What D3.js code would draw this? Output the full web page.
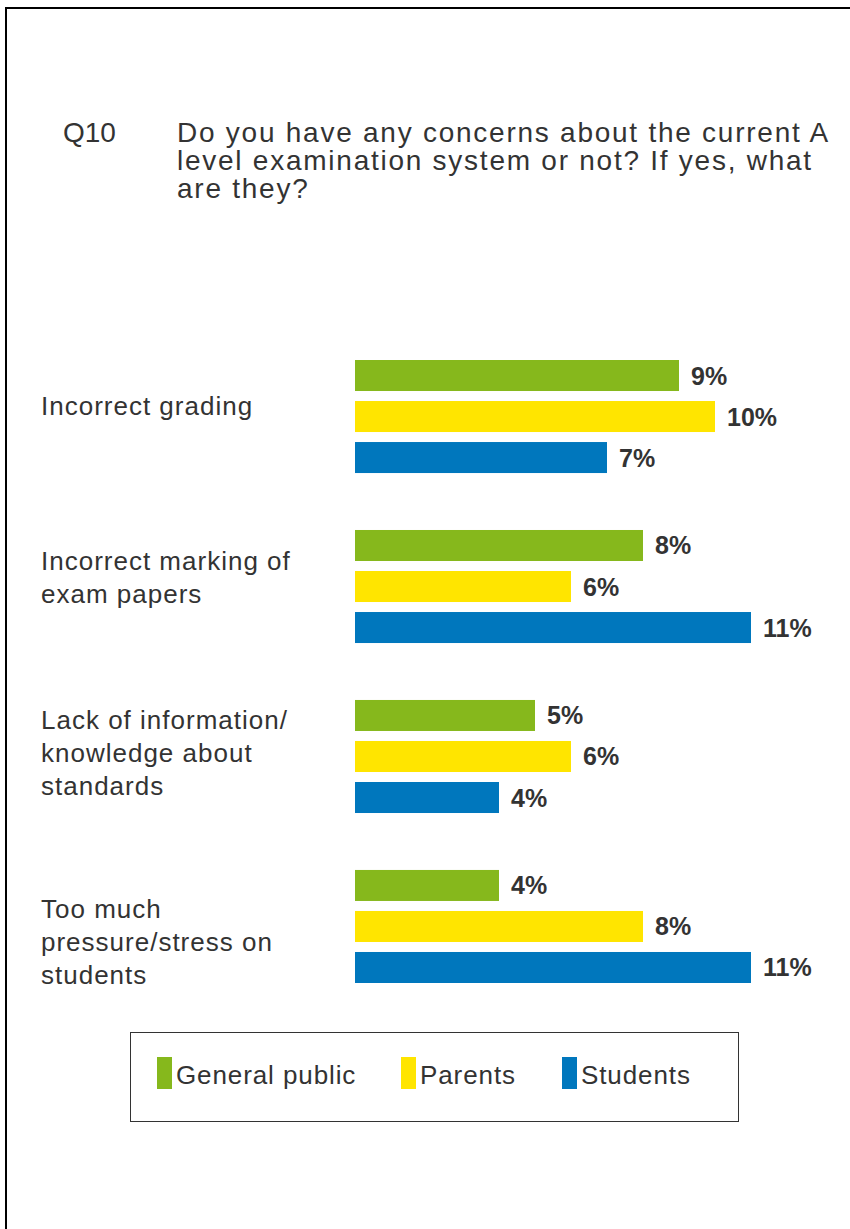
<!DOCTYPE html>
<html>
<head>
<meta charset="utf-8">
<script src="https://cdn.jsdelivr.net/npm/d3@7"></script>
<style>
  html, body { margin: 0; padding: 0; background: #fff; }
  svg { display: block; font-family: "Liberation Sans", Arial, sans-serif; }
</style>
</head>
<body>
<svg id="chart" width="850" height="1229"></svg>
<script>
// ---- data ----
const categories = [
  ["Incorrect grading"],
  ["Incorrect marking of", "exam papers"],
  ["Lack of information/", "knowledge about", "standards"],
  ["Too much", "pressure/stress on", "students"]
];
const seriesNames = ["General public", "Parents", "Students"];
const generalPublic = [9, 8, 5, 4];
const parents = [10, 6, 6, 8];
const students = [7, 11, 4, 11];
const questionId = "Q10";
const questionLines = [
  "Do you have any concerns about the current A",
  "level examination system or not? If yes, what",
  "are they?"
];

// ---- layout ----
const colors = ["#86b81c", "#ffe500", "#0077bd"];
const textColor = "#333333";
const labelFirstBaseline = [55, 40, 29, 48]; // first line baseline below each group's top
const labelLineHeight = 33;

const svg = d3.select("#chart");
const seriesValues = [generalPublic, parents, students];
const catKeys = categories.map((c, i) => i);

const x = d3.scaleLinear().domain([0, 12]).range([355, 355 + 36 * 12]);
const y = d3.scaleBand().domain(catKeys).range([360, 983]).paddingInner(0.335).paddingOuter(0);
const yInner = d3.scaleBand().domain(seriesNames).range([0, y.bandwidth()]).paddingInner(0.244).paddingOuter(0);

// page frame (left and top edges)
svg.append("path")
  .attr("d", "M6,1229V8H850")
  .attr("fill", "none")
  .attr("stroke", "#000")
  .attr("stroke-width", 2);

// question heading
svg.append("text")
  .attr("x", 63).attr("y", 142)
  .attr("font-size", 28)
  .attr("fill", textColor)
  .text(questionId);

svg.append("text")
  .attr("font-size", 28)
  .attr("fill", textColor)
  .attr("letter-spacing", 1.75)
  .selectAll("tspan")
  .data(questionLines)
  .join("tspan")
  .attr("x", 177)
  .attr("y", (d, i) => 142 + i * 28)
  .text(d => d);

// category groups
const groups = svg.append("g").selectAll("g")
  .data(catKeys)
  .join("g")
  .attr("transform", d => `translate(0,${y(d)})`);

groups.selectAll("rect")
  .data(ci => seriesNames.map((s, si) => ({ s, si, v: seriesValues[si][ci] })))
  .join("rect")
  .attr("x", x(0))
  .attr("y", d => yInner(d.s))
  .attr("width", d => x(d.v) - x(0))
  .attr("height", yInner.bandwidth())
  .attr("fill", d => colors[d.si]);

groups.selectAll("text.value")
  .data(ci => seriesNames.map((s, si) => ({ s, si, v: seriesValues[si][ci] })))
  .join("text")
  .attr("class", "value")
  .attr("x", d => x(d.v) + 12)
  .attr("y", d => yInner(d.s) + yInner.bandwidth() / 2 + 9)
  .attr("font-size", 25)
  .attr("font-weight", "bold")
  .attr("fill", textColor)
  .text(d => d.v + "%");

// category labels
groups.append("text")
  .attr("font-size", 26)
  .attr("letter-spacing", 1.0)
  .attr("fill", textColor)
  .selectAll("tspan")
  .data(ci => categories[ci].map((line, li) => ({ line, li, ci })))
  .join("tspan")
  .attr("x", 41)
  .attr("y", d => labelFirstBaseline[d.ci] + d.li * labelLineHeight)
  .text(d => d.line);

// legend
const legend = svg.append("g");
legend.append("rect")
  .attr("x", 130.5).attr("y", 1032.5)
  .attr("width", 608).attr("height", 89)
  .attr("fill", "#fff")
  .attr("stroke", "#333")
  .attr("stroke-width", 1);

const legendX = [157, 401, 562];
const items = legend.selectAll("g.item")
  .data(seriesNames)
  .join("g")
  .attr("class", "item")
  .attr("transform", (d, i) => `translate(${legendX[i]},1057)`);

items.append("rect")
  .attr("width", 15).attr("height", 32)
  .attr("fill", (d, i) => colors[i]);

items.append("text")
  .attr("x", 19).attr("y", 27)
  .attr("font-size", 26)
  .attr("letter-spacing", 0.9)
  .attr("fill", textColor)
  .text(d => d);
</script>
</body>
</html>
